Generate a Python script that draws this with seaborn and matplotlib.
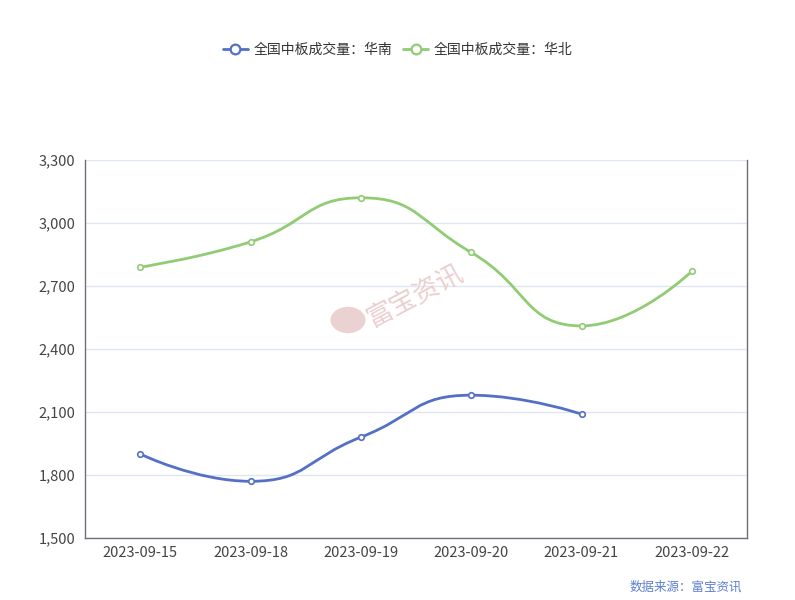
import numpy as np
import pandas as pd
import seaborn as sns
import matplotlib.pyplot as plt
from matplotlib.path import Path
from matplotlib.patches import PathPatch, Circle
from matplotlib.lines import Line2D

dates = ['2023-09-15', '2023-09-18', '2023-09-19', '2023-09-20', '2023-09-21', '2023-09-22']
south = [1900, 1770, 1980, 2180, 2090]
north = [2790, 2910, 3120, 2860, 2510, 2770]
series_names = ['全国中板成交量：华南', '全国中板成交量：华北']
colors = ['#5470c6', '#91cc75']

sns.set_theme(style='white')
plt.rcParams['font.family'] = ['Noto Sans CJK SC', 'DejaVu Sans']

fig = plt.figure(figsize=(7.95, 6.0), dpi=100)
ax = fig.add_axes([85 / 795, 62 / 600, 662 / 795, 378 / 600])

ax.set_xlim(-0.5, len(dates) - 0.5)
ax.set_ylim(1500, 3300)

# pixel scale, used for echarts-like smoothing
sx = 662 / len(dates)
sy = 378 / 1800


def smooth_path(xs, ys, smooth=0.5):
    # echarts style bezier smoothing, computed in pixel space
    px = [x * sx for x in xs]
    py = [y * sy for y in ys]
    verts = [(px[0], py[0])]
    codes = [Path.MOVETO]
    cpx0, cpy0 = px[0], py[0]
    n = len(px)
    for k in range(1, n):
        x, y = px[k], py[k]
        prevX, prevY = px[k - 1], py[k - 1]
        if k == n - 1:
            cpx1, cpy1 = x, y
            ncx, ncy = x, y
        else:
            nextX, nextY = px[k + 1], py[k + 1]
            vx, vy = nextX - prevX, nextY - prevY
            lp = np.hypot(x - prevX, y - prevY)
            ln = np.hypot(nextX - x, nextY - y)
            r = ln / (ln + lp)
            ncx = x + vx * smooth * r
            ncy = y + vy * smooth * r
            ncx = min(ncx, max(nextX, x)); ncx = max(ncx, min(nextX, x))
            ncy = min(ncy, max(nextY, y)); ncy = max(ncy, min(nextY, y))
            vx, vy = ncx - x, ncy - y
            cpx1 = x - vx * lp / ln
            cpy1 = y - vy * lp / ln
            cpx1 = min(cpx1, max(prevX, x)); cpx1 = max(cpx1, min(prevX, x))
            cpy1 = min(cpy1, max(prevY, y)); cpy1 = max(cpy1, min(prevY, y))
            vx, vy = x - cpx1, y - cpy1
            ncx = x + vx * ln / lp
            ncy = y + vy * ln / lp
        verts += [(cpx0, cpy0), (cpx1, cpy1), (x, y)]
        codes += [Path.CURVE4] * 3
        cpx0, cpy0 = ncx, ncy
    verts = [(vx_ / sx, vy_ / sy) for vx_, vy_ in verts]
    return Path(verts, codes)


for vals, c in zip([south, north], colors):
    xs = list(range(len(vals)))
    ax.add_patch(PathPatch(smooth_path(xs, vals), facecolor='none', edgecolor=c,
                           lw=2.0, zorder=3, capstyle='round', joinstyle='round'))
    df = pd.DataFrame({'x': xs, 'y': vals})
    sns.scatterplot(data=df, x='x', y='y', ax=ax, color='white', edgecolor=c,
                    linewidth=1.2, s=16, zorder=4, legend=False)

ax.set_xlabel('')
ax.set_ylabel('')
ax.set_xticks(range(len(dates)))
ax.set_xticklabels(dates)
ax.set_xticks(np.arange(-0.5, len(dates)), minor=True)
ax.tick_params(axis='x', which='major', length=0, pad=6, labelsize=10.5, labelcolor='#444')
ax.tick_params(axis='x', which='minor', length=4, width=1, color='#6e7079', direction='out')
yt = np.arange(1500, 3301, 300)
ax.set_yticks(yt)
ax.set_yticklabels([f'{v:,}' for v in yt])
ax.tick_params(axis='y', length=0, pad=7, labelsize=10.5, labelcolor='#444')
ax.grid(axis='y', color='#e0e6f1', lw=1)
ax.set_axisbelow(True)

for s in ['left', 'bottom', 'right']:
    ax.spines[s].set_color('#6e7079')
    ax.spines[s].set_linewidth(1)
ax.spines['top'].set_visible(False)

handles = [Line2D([0], [0], color=c, lw=2.0, marker='o', markersize=7,
                  markerfacecolor='white', markeredgecolor=c, markeredgewidth=1.6)
           for c in colors]
fig.legend(handles, series_names, loc='center', bbox_to_anchor=(0.5, 1 - 50 / 600),
           ncol=2, frameon=False, fontsize=10, handlelength=1.8, handletextpad=0.4,
           columnspacing=0.8, labelcolor='#333')

# watermark
fig.patches.append(Circle((348 / 795, 1 - 320 / 600), 0.022, transform=fig.transFigure,
                          facecolor='#e6c6c6', edgecolor='none', alpha=0.8, zorder=0))
fig.text(416 / 795, 1 - 296 / 600, '富宝资讯', fontsize=19, color='#ebcfcf',
         rotation=28, ha='center', va='center', zorder=1)

fig.text(742 / 795, 1 - 587 / 600, '数据来源：富宝资讯', fontsize=9, color='#5b7fd0',
         ha='right', va='center')

fig.savefig('out.png', dpi=100)
